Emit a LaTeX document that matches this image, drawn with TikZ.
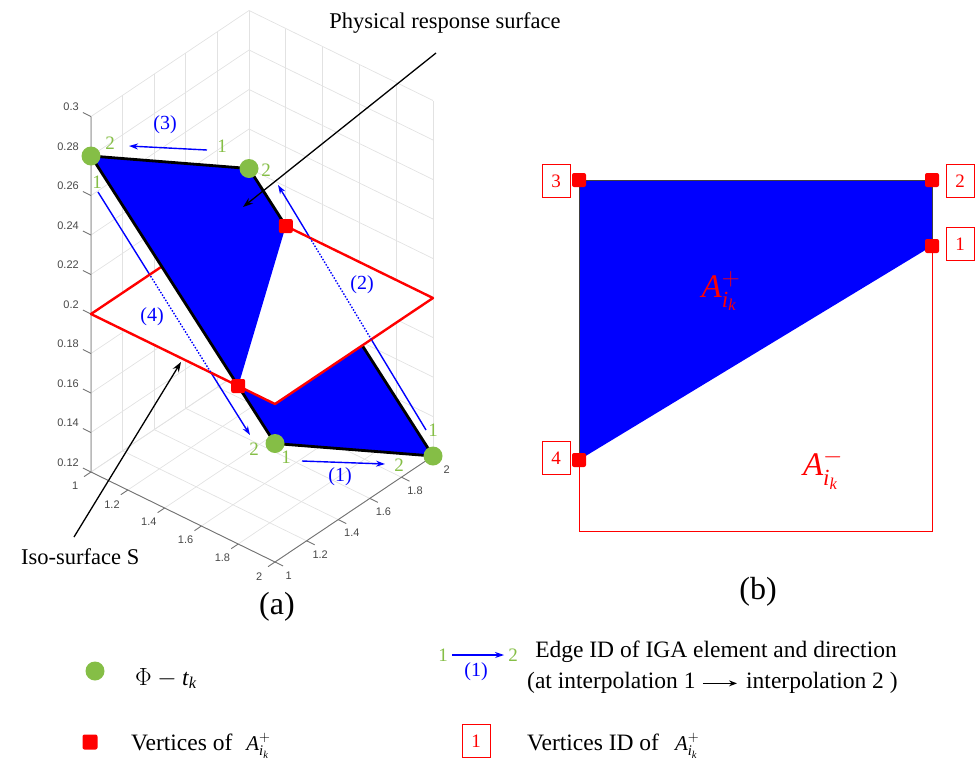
\documentclass[tikz,border=0pt]{standalone}
\usepackage{amsmath,amssymb}
\usepackage{xcolor}
\usepackage{fontspec}
\setmainfont{Liberation Serif}
\newfontfamily\axisfont{Liberation Sans}
\usepackage{tikz}
\usetikzlibrary{arrows.meta,positioning,calc}
\definecolor{dotgreen}{RGB}{133,190,70}
\definecolor{gridgray}{RGB}{226,226,226}
\definecolor{axisgray}{RGB}{115,115,115}
\newcommand{\Aik}[1]{\ensuremath{\textit{A}^{#1}_{\textit{i}_{\textit{k}}}}}

\begin{document}
\begin{tikzpicture}[x=1pt,y=-1pt,
  every node/.style={inner sep=1pt},
  txt/.style={font=\fontsize{22.5}{26}\selectfont},
  legtxt/.style={font=\fontsize{23.5}{27}\selectfont},
  capt/.style={font=\fontsize{32}{36}\selectfont},
  ticklab/.style={font=\axisfont\fontsize{11}{13}\selectfont,text=black!72},
  gnum/.style={text=dotgreen,font=\fontsize{19}{22}\selectfont},
  edgelab/.style={text=blue,font=\fontsize{20}{24}\selectfont},
  gdot/.style={circle,fill=dotgreen,minimum size=19pt,inner sep=0pt},
  rsq/.style={rectangle,fill=red,rounded corners=2pt,minimum size=14pt,inner sep=0pt},
  idbox/.style={rectangle,draw=red,line width=0.8pt,fill=white,text=red,
                minimum width=28pt,minimum height=33pt,inner sep=0pt,
                font=\fontsize{19}{22}\selectfont},
  gridline/.style={draw=gridgray,line width=0.7pt},
  axisline/.style={draw=axisgray,line width=0.9pt},
  edgearrow/.style={-{Stealth[length=9pt,width=6pt]},blue,line width=1.4pt},
  hiddenpart/.style={blue,line width=1.4pt,dash pattern=on 1.5pt off 1.6pt},
  pointer/.style={-{Stealth[length=10pt,width=7pt]},line width=1.3pt},
  rim/.style={draw=black,line width=2.8pt,line join=round},
  isoedge/.style={draw=red,line width=2.4pt,fill=white,line join=round},
]
\useasboundingbox (0,0) rectangle (976,764);

% Edge arrows (screen positions)
\coordinate (e1a) at (302,461); \coordinate (e1b) at (385,464);
\coordinate (e2a) at (426,430); \coordinate (e2b) at (278,185);
\coordinate (e3a) at (207,150); \coordinate (e3b) at (129,146);
\coordinate (e4a) at (98,192);  \coordinate (e4b) at (250,435);

% 3D plot, x,y in steps of 0.2, z in steps of 0.02 from 0.12
\begin{scope}[shift={(91,472)},x={(36.8pt,-18pt)},y={(31.6pt,21.2pt)},z={(0pt,39.5pt)}]
  % grid on floor and back walls
  \foreach \i in {0,...,5} {
    \draw[gridline] (\i,0,0) -- (\i,5,0);
    \draw[gridline] (0,\i,0) -- (5,\i,0);
    \draw[gridline] (0,\i,0) -- (0,\i,9);
    \draw[gridline] (\i,5,0) -- (\i,5,9);
  }
  \foreach \k in {0,...,9} {
    \draw[gridline] (0,0,\k) -- (0,5,\k);
    \draw[gridline] (0,5,\k) -- (5,5,\k);
  }
  % axes and ticks
  \draw[axisline] (0,0,9) -- (0,0,0) -- (5,0,0) -- (5,5,0);
  \foreach \i/\lab in {0/1,1/1.2,2/1.4,3/1.6,4/1.8,5/2} {
    \draw[axisline] (\i,0,0) -- (\i,-0.22,0);
    \node[ticklab] (xl\i) at (\i,-0.5,-0.09) {\lab};
    \draw[axisline] (5,\i,0) -- (5.22,\i,0);
    \node[ticklab] (yl\i) at (5.37,\i,-0.17) {\lab};
  }
  \foreach \k/\lab in {0/0.12,1/0.14,2/0.16,3/0.18,4/0.2,5/0.22,6/0.24,7/0.26,8/0.28,9/0.3} {
    \draw[axisline] (0,0,\k) -- (-0.22,0,\k);
    \node[ticklab,anchor=east] (zl\k) at (-0.3,0,\k+0.1) {\lab};
  }

  % surface corners, cut points and iso-plane corners
  \coordinate (s11) at (0,0,8);
  \coordinate (s12) at (0,5,5);
  \coordinate (s21) at (5,0,3);
  \coordinate (s22) at (5,5,0);
  \coordinate (q1) at (1,5,4);
  \coordinate (q2) at (4,0,4);
  \coordinate (c11) at (0,0,4);
  \coordinate (c21) at (5,0,4);
  \coordinate (c22) at (5,5,4);
  \coordinate (c12) at (0,5,4);

  % part of the surface below S
  \fill[blue] (q1) -- (q2) -- (s21) -- (s22) -- cycle;
  \draw[rim] (s21) -- (s22) -- (q1);

  % edge arrows passing behind S
  \draw[edgearrow] (e2a) -- (e2b);
  \draw[edgearrow] (e4a) -- (e4b);

  % iso-surface S
  \filldraw[isoedge] (c11) -- (c21) -- (c22) -- (c12) -- cycle;
  \begin{scope}
    \clip (c11) -- (c21) -- (c22) -- (c12) -- cycle;
    \draw[hiddenpart] (e2a) -- (e2b);
    \draw[hiddenpart] (e4a) -- (e4b);
  \end{scope}

  % part of the surface above S
  \fill[blue] (s11) -- (s12) -- (q1) -- (q2) -- cycle;
  \draw[rim] (q1) -- (s12) -- (s11) -- (s21);

  % markers
  \foreach \c in {s11,s12,s21,s22} \node[gdot] (g\c) at (\c) {};
  \node[rsq] (r1) at (q1) {};
  \node[rsq] (r2) at (q2) {};
\end{scope}

% Edge arrows in front
\draw[edgearrow] (e1a) -- (e1b);
\draw[edgearrow] (e3a) -- (e3b);

% Edge labels
\node[edgelab] (lab1) at (340,477) {(1)};
\node[edgelab] (lab2) at (362,285) {(2)};
\node[edgelab] (lab3) at (165,125) {(3)};
\node[edgelab] (lab4) at (152,317) {(4)};
\node[gnum] (n1a) at (286,457) {1};
\node[gnum] (n1b) at (399,465) {2};
\node[gnum] (n2a) at (433,430) {1};
\node[gnum] (n2b) at (266,170) {2};
\node[gnum] (n3a) at (222,146) {1};
\node[gnum] (n3b) at (110,143) {2};
\node[gnum] (n4a) at (97,182) {1};
\node[gnum] (n4b) at (254,449) {2};

% Pointers
\node[txt,anchor=base] (physlab) at (445,28.5) {Physical response surface};
\coordinate (physfrom) at (436,53);
\coordinate (physto) at (243,207);
\draw[pointer] (physfrom) -- (physto);
\node[txt,anchor=base west] (isolab) at (20,564) {Iso-surface S};
\coordinate (isofrom) at (74,537);
\coordinate (isoto) at (181,362);
\draw[pointer] (isofrom) -- (isoto);

\node[capt,anchor=base] (capa) at (277,614) {(a)};

% Parametric domain of the element
\coordinate (v3) at (579,180);
\coordinate (v2) at (932,180);
\coordinate (v1) at (932,246);
\coordinate (v4) at (579,460);
\coordinate (dbr) at (932,531);
\coordinate (dbl) at (579,531);
\draw[red,line width=1pt] (v1) -- (dbr) -- (dbl) -- (v4);
\filldraw[fill=blue,draw=black!75,line width=0.8pt] (v4) -- (v3) -- (v2) -- (v1);
\foreach \v in {v1,v2,v3,v4} \node[rsq] (m\v) at (\v) {};
\node[idbox] (id1) at (960,244) {1};
\node[idbox] (id2) at (960,181) {2};
\node[idbox] (id3) at (556,181) {3};
\node[idbox] (id4) at (556,458) {4};
\node[text=red,font=\fontsize{33}{38}\selectfont] (aplus) at (721,291) {\Aik{+}};
\node[text=red,font=\fontsize{33}{38}\selectfont] (aminus) at (823,469) {\Aik{-}};

\node[capt,anchor=base] (capb) at (758,599) {(b)};

% Legend
\node[gdot] (legdot) at (95,671) {};
\node[legtxt,anchor=base west] (legphi) at (134,685) {$\Phi - \textit{t}_{\textit{k}}$};
\node[rsq,minimum size=15pt] (legsq) at (90,742) {};
\node[legtxt,anchor=base west] (legvert) at (130,750)
      {Vertices of\hspace{14pt}{\fontsize{21}{24}\selectfont\Aik{+}}};

\node[gnum] (legn1) at (443,655) {1};
\node[gnum] (legn2) at (513,655) {2};
\draw[edgearrow] ([xshift=3pt]legn1.east) -- ([xshift=-3pt]legn2.west);
\node[edgelab] (legl1) at (476,672) {(1)};
\node[legtxt,anchor=base] (legedge) at (716,657) {Edge ID of IGA element and direction};
\node[legtxt,anchor=base west] (legfrom) at (526,688) {(at interpolation 1};
\node[legtxt,anchor=base west] (legto) at (745,688) {interpolation 2 )};
\draw[-{Stealth[length=8pt,width=6pt]},line width=1.2pt] ([xshift=6pt,yshift=-1pt]legfrom.east) -- ([xshift=-8pt,yshift=-1pt]legto.west);

\node[idbox] (legid) at (476,741) {1};
\node[legtxt,anchor=base west] (legids) at (526,750)
      {Vertices ID of\hspace{16pt}{\fontsize{21}{24}\selectfont\Aik{+}}};
\end{tikzpicture}
\end{document}
